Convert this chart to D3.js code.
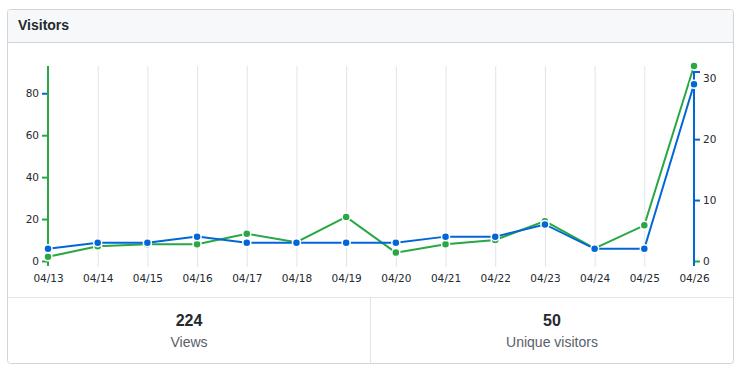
<!DOCTYPE html>
<html><head><meta charset="utf-8">
<script src="https://cdn.jsdelivr.net/npm/d3@7"></script>
<style>
html,body{margin:0;padding:0;background:#fff;}
svg{display:block;}
</style></head>
<body>
<svg id="c" width="748" height="375"></svg>
<script>
const dates = ["04/13","04/14","04/15","04/16","04/17","04/18","04/19","04/20","04/21","04/22","04/23","04/24","04/25","04/26"];
const views = [2,7,8,8,13,9,21,4,8,10,19,6,17,93];
const uniques = [2,3,3,4,3,3,3,3,4,4,6,2,2,29];
const viewTicks = [0,20,40,60,80];
const uniqueTicks = [0,10,20,30];
const totalViews = 224;
const totalUniques = 50;
const uniqueMax = 32;

const green = "#28a745", blue = "#0366d6";
const svg = d3.select("#c");
const axisFont = "'DejaVu Sans', sans-serif";
const uiFont = "'Liberation Sans', Arial, sans-serif";

// box
const bx = 7.5, by = 9.5, bw = 726, bh = 354;
svg.append("rect").attr("x",bx).attr("y",by).attr("width",bw).attr("height",bh)
  .attr("rx",3).attr("fill","#fff").attr("stroke","#d1d5da");
// header
svg.append("path").attr("d",`M${bx+0.5},${by+3} a2.5,2.5 0 0 1 2.5,-2.5 H${bx+bw-3} a2.5,2.5 0 0 1 2.5,2.5 V42 H${bx+0.5} Z`)
  .attr("fill","#f6f8fa");
svg.append("line").attr("x1",bx).attr("x2",bx+bw).attr("y1",42.5).attr("y2",42.5).attr("stroke","#d1d5da");
svg.append("text").attr("x",18).attr("y",30).text("Visitors")
  .attr("font-family",uiFont).attr("font-weight","bold").attr("font-size",14).attr("fill","#24292e");

// stats
svg.append("line").attr("x1",bx).attr("x2",bx+bw).attr("y1",297.5).attr("y2",297.5).attr("stroke","#e1e4e8");
svg.append("line").attr("x1",370.5).attr("x2",370.5).attr("y1",298).attr("y2",363).attr("stroke","#e1e4e8");
const stats = [{v:totalViews,l:"Views",cx:(bx+370.5)/2},{v:totalUniques,l:"Unique visitors",cx:(370.5+bx+bw)/2}];
stats.forEach(s=>{
  svg.append("text").attr("x",s.cx).attr("y",326).attr("text-anchor","middle").text(s.v)
    .attr("font-family",uiFont).attr("font-weight","bold").attr("font-size",16).attr("fill","#24292e");
  svg.append("text").attr("x",s.cx).attr("y",347).attr("text-anchor","middle").text(s.l)
    .attr("font-family",uiFont).attr("font-size",14).attr("fill","#586069");
});

// scales
const x = d3.scalePoint().domain(dates).range([48,694]);
const yTop = 66, yBot = 261;
const yL = d3.scaleLinear().domain([0,d3.max(views)]).range([yBot,yTop]);
const yR = d3.scaleLinear().domain([0,uniqueMax]).range([yBot,yTop]);

// gridlines
svg.append("g").selectAll("line").data(dates.slice(1,-1)).join("line")
  .attr("x1",d=>x(d)+0.5).attr("x2",d=>x(d)+0.5).attr("y1",yTop).attr("y2",yBot+6)
  .attr("stroke","#e1e4e8").attr("stroke-width",1);

// x axis labels
const xa = svg.append("g").attr("transform",`translate(0,${yBot+5})`)
  .call(d3.axisBottom(x).tickSize(0).tickPadding(9));
xa.select(".domain").remove();
xa.selectAll("text").attr("font-family",axisFont).attr("font-size",10.5).attr("fill","#24292e");

// left axis
const la = svg.append("g").attr("transform","translate(48,0)")
  .call(d3.axisLeft(yL).tickValues(viewTicks).tickSize(6).tickPadding(3).tickFormat(d3.format("d")));
la.select(".domain").remove();
la.selectAll(".tick line").attr("stroke",(d)=> d===80 ? blue : green).attr("stroke-width",2);
la.selectAll("text").attr("font-family",axisFont).attr("font-size",10.5).attr("fill","#24292e");
svg.append("line").attr("x1",48).attr("x2",48).attr("y1",yTop).attr("y2",yBot+5)
  .attr("stroke",green).attr("stroke-width",2);

// right axis
const ra = svg.append("g").attr("transform","translate(694,0)")
  .call(d3.axisRight(yR).tickValues(uniqueTicks).tickSize(6).tickPadding(3).tickFormat(d3.format("d")));
ra.select(".domain").remove();
ra.selectAll(".tick line").attr("stroke",(d)=> d===0 ? green : blue).attr("stroke-width",2)
  .attr("opacity",d=> d===30 ? 0 : 1);
ra.selectAll("text").attr("font-family",axisFont).attr("font-size",10.5).attr("fill","#24292e");
svg.append("path").attr("d",`M694,${yBot+5} V${yR(31)} H700`)
  .attr("fill","none").attr("stroke",blue).attr("stroke-width",2);

// series
function series(vals, y, color){
  const pts = vals.map((v,i)=>[x(dates[i]), y(v)]);
  svg.append("path").attr("d",d3.line()(pts)).attr("fill","none")
    .attr("stroke",color).attr("stroke-width",2);
  svg.append("g").selectAll("circle").data(pts).join("circle")
    .attr("cx",d=>d[0]).attr("cy",d=>d[1]).attr("r",4)
    .attr("fill",color).attr("stroke","#fff").attr("stroke-width",1.5);
}
series(views, yL, green);
series(uniques, yR, blue);
</script>
</body></html>
